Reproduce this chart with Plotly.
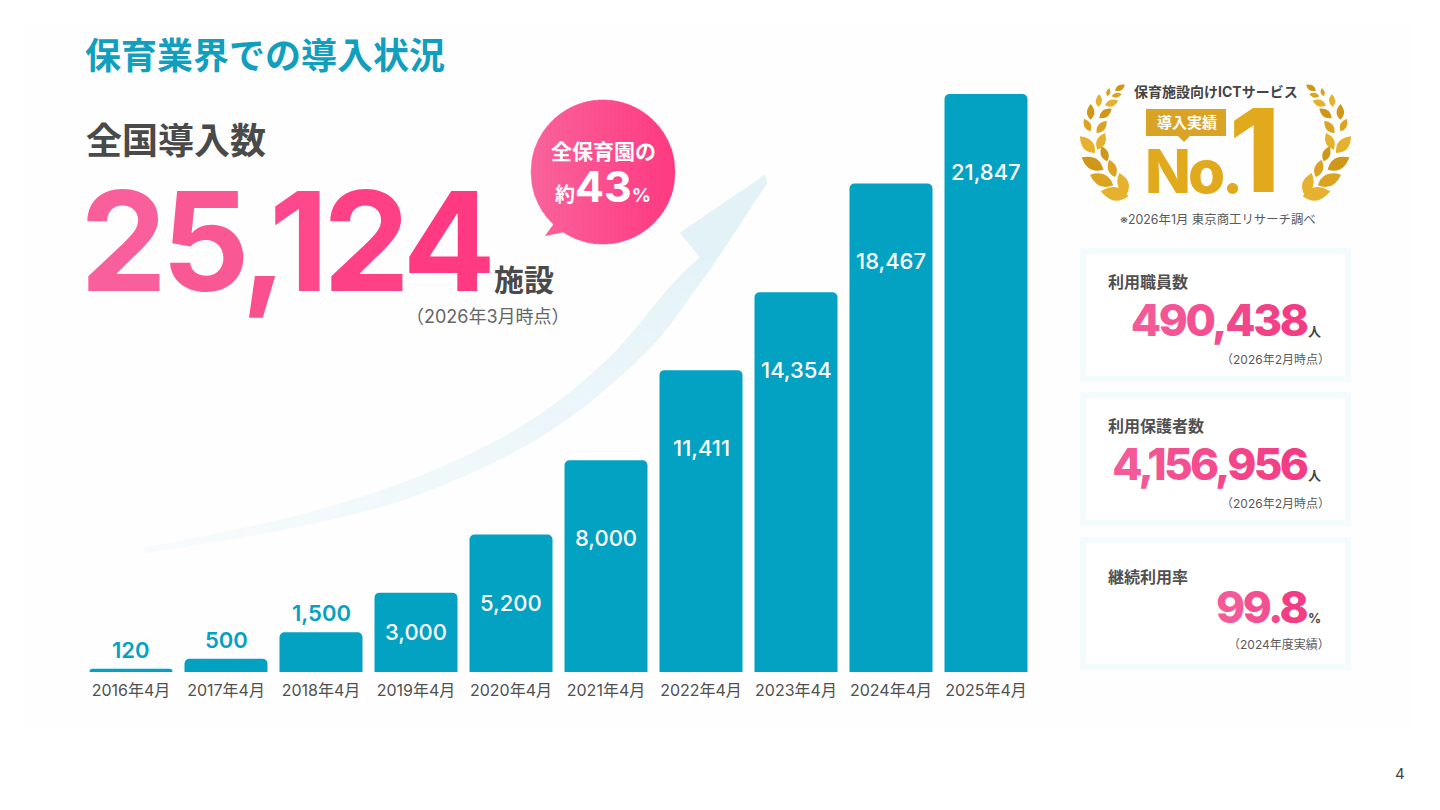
import plotly.graph_objects as go

CATEGORIES = ["2016年4月", "2017年4月", "2018年4月", "2019年4月", "2020年4月",
              "2021年4月", "2022年4月", "2023年4月", "2024年4月", "2025年4月"]
VALUES = [120, 500, 1500, 3000, 5200, 8000, 11411, 14354, 18467, 21847]
TITLE = "保育業界での導入状況"
TOTAL_LABEL = "全国導入数"
TOTAL_VALUE = "25,124"
TOTAL_UNIT = "施設"
TOTAL_NOTE = "（2026年3月時点）"
SHARE_TOP = "全保育園の"
SHARE_VALUE = "43"
STAT_LABELS = ["利用職員数", "利用保護者数", "継続利用率"]
STAT_VALUES = ["490,438", "4,156,956", "99.8"]
STAT_UNITS = ["人", "人", "%"]
STAT_NOTES = ["（2026年2月時点）", "（2026年2月時点）", "（2024年度実績）"]

W, H = 1440, 810
BASE_Y, TOP_Y = 672, 90
Y_MAX = 22000
PX_PER_UNIT = (BASE_Y - TOP_Y) / Y_MAX
TEAL = "#03a1c2"
SANS = "Inter, 'Noto Sans CJK JP', sans-serif"
JP = "'Noto Sans CJK JP', sans-serif"
GREY = "#4a4a4a"
GOLD = "#e1aa1c"
shapes, anns = [], []


def fx(x):
    return x / W


def fy(y):
    return 1 - y / H


def mix(a, b, t):
    a = [int(a[i:i + 2], 16) for i in (1, 3, 5)]
    b = [int(b[i:i + 2], 16) for i in (1, 3, 5)]
    return "#%02x%02x%02x" % tuple(round(p + (q - p) * t) for p, q in zip(a, b))


def poly(points, fill, line=False):
    d = "M" + "L".join(f"{fx(x):.5f},{fy(y):.5f}" for x, y in points) + "Z"
    shapes.append(dict(type="path", xref="paper", yref="paper", path=d, fillcolor=fill, layer="below",
                       line=dict(color=fill, width=0.6) if line else dict(width=0)))


def rect(x0, y0, x1, y1, fill):
    shapes.append(dict(type="rect", xref="paper", yref="paper", x0=fx(x0), x1=fx(x1), y0=fy(y1), y1=fy(y0),
                       fillcolor=fill, line=dict(width=0), layer="below"))


def text(x, y, s, size, color=GREY, anchor="left", family=JP, weight=400):
    anns.append(dict(xref="paper", yref="paper", x=fx(x), y=fy(y), text=s, showarrow=False,
                     xanchor=anchor, yanchor="middle", align=anchor,
                     font=dict(size=size, color=color, family=family, weight=weight)))


def gradient(s, a="#f95f9a", b="#ff3a82"):
    n = max(len(s) - 1, 1)
    return "".join(f'<span style="color:{mix(a, b, i / n)}">{c}</span>' for i, c in enumerate(s))


def smooth(pts, sub=6):
    """Catmull-Rom outline through the traced edge of the decorative arrow."""
    out = []
    for i in range(len(pts) - 1):
        p0, p1, p2, p3 = pts[max(i - 1, 0)], pts[i], pts[i + 1], pts[min(i + 2, len(pts) - 1)]
        for k in range(sub):
            t = k / sub
            out.append(tuple(0.5 * (2 * b + (c - a) * t + (2 * a - 5 * b + 4 * c - d) * t * t
                                    + (3 * b - a - 3 * c + d) * t ** 3)
                             for a, b, c, d in zip(p0, p1, p2, p3)))
    out.append(pts[-1])
    return out


# panel
rect(25, 25, 1412, 728, "#fefefe")

# arrow behind the bars
upper = smooth([(145, 548), (296, 516), (420, 476), (524, 425), (607, 360), (669, 288), (700, 257)])
lower = smooth([(145, 553), (296, 527), (420, 494), (545, 434), (644, 354), (700, 283), (723, 250)])
n = len(upper) - 1
for i in range(n):
    poly([upper[i], upper[i + 1], lower[i + 1], lower[i]], mix("#f7fbfd", "#e2f2f7", i / n), line=True)
poly([(765, 175), (680, 233), (700, 257), (723, 250), (767, 183)], "#e2f2f7", line=True)

# speech bubble, in vertical strips for the horizontal gradient
cx, cy, r = 603, 172, 72
poly([(562, 212), (545, 236), (585, 228)], "#fb5c96")
strips = 36
for i in range(strips):
    pts_top, pts_bot = [], []
    for j in range(5):
        x = cx - r + 2 * r * (i + j / 4) / strips
        dy = max(r * r - (x - cx) ** 2, 0) ** 0.5
        pts_top.append((x, cy - dy))
        pts_bot.append((x, cy + dy))
    poly(pts_top + pts_bot[::-1], mix("#f9639c", "#ff3a82", i / (strips - 1)), line=True)

# laurels
LEFT_LEAVES = [((175, 355), (92, 340)), ((130, 322), (60, 290)), ((100, 275), (35, 238)), ((75, 225), (30, 175)),
               ((62, 160), (42, 122)), ((62, 125), (62, 78)), ((85, 87), (88, 48)), ((112, 55), (118, 30)), ((135, 38), (165, 20)),
               ((170, 350), (148, 285)), ((135, 297), (118, 245)), ((112, 250), (95, 205)), ((82, 215), (105, 165)),
               ((80, 165), (110, 128)), ((88, 120), (125, 92)), ((105, 82), (145, 68)), ((125, 55), (155, 48))]


def leaf(p, q, fill, mirror):
    def m(pt):
        x, y = 1070 + pt[0] / 3, 78 + pt[1] / 3
        return (2 * 1215.5 - x if mirror else x, y)
    (x0, y0), (x1, y1) = m(p), m(q)
    dx, dy = x1 - x0, y1 - y0
    nx, ny = -dy * 0.48, dx * 0.48
    mx, my = x0 + dx * 0.45, y0 + dy * 0.45
    d = (f"M{fx(x0):.5f},{fy(y0):.5f}Q{fx(mx + nx):.5f},{fy(my + ny):.5f} {fx(x1):.5f},{fy(y1):.5f}"
         f"Q{fx(mx - nx):.5f},{fy(my - ny):.5f} {fx(x0):.5f},{fy(y0):.5f}Z")
    shapes.append(dict(type="path", xref="paper", yref="paper", path=d, fillcolor=fill, line=dict(width=0), layer="below"))


for mirror in (False, True):
    for i, (p, q) in enumerate(LEFT_LEAVES):
        leaf(p, q, mix("#e6b12e", "#cf9717", (i % 3) / 2), mirror)

# badge
rect(1146, 109, 1226, 136, "#d9a425")
poly([(1178, 136), (1190, 136), (1184, 142)], "#d9a425")
text(1215.5, 91, "保育施設向けICTサービス", 14, "#444444", "center", SANS, 700)
text(1187, 122, "導入実績", 15, "#ffffff", "center", JP, 700)
text(1143, 171, "No.", 60, GOLD, "left", SANS, 800)
text(1282, 150, "1", 116, GOLD, "right", SANS, 800)
text(1218, 219, "※2026年1月 東京商工リサーチ調べ", 12.4, "#5a5a5a", "center", SANS)

# stat cards
CARD_Y = [(248, 382), (392, 526), (537, 670)]
LABEL_Y = [281, 425, 576]
VALUE_Y = [320, 464, 607]
NOTE_Y = [359, 503, 644]
for i, (y0, y1) in enumerate(CARD_Y):
    rect(1080, y0, 1351, y1, "#f3fbfe")
    rect(1086, y0 + 6, 1345, y1 - 6, "#ffffff")
    text(1106, LABEL_Y[i], STAT_LABELS[i], 16, "#505050", "left", JP, 700)
    text(1308, VALUE_Y[i], gradient(STAT_VALUES[i], "#f55a98", "#f23d84"), 44, "#f44a8d", "right", SANS, 800)
    text(1323, VALUE_Y[i] + 11, STAT_UNITS[i], 13, "#444444", "right", SANS, 700)
    text(1332, NOTE_Y[i], STAT_NOTES[i], 12, "#5a5a5a", "right", SANS)

# headline block
text(83, 53, TITLE, 36, "#129fbe", "left", JP, 700)
text(84, 138, TOTAL_LABEL, 36, GREY, "left", JP, 700)
text(78, 240, gradient(TOTAL_VALUE), 138, "#fb5c96", "left", SANS, 700)
text(492, 278, TOTAL_UNIT, 30, GREY, "left", JP, 700)
text(404, 317, TOTAL_NOTE, 18, "#666666", "left", SANS)
text(603, 150, SHARE_TOP, 21, "#ffffff", "center", JP, 700)
text(603, 186, f'<span style="font-size:20px">約</span><span style="font-size:43px">{SHARE_VALUE}</span><span style="font-size:19px">%</span>',
     43, "#ffffff", "center", SANS, 700)
text(1400, 773, "4", 15, "#444444", "center", SANS)

# value labels: from the bar's own value, inside the bar if it can hold the label
for c, v in zip(CATEGORIES, VALUES):
    h = v * PX_PER_UNIT
    if v >= 3000:
        shift, color, weight = -min(78, h / 2), "#ffffff", 500
    else:
        shift, color, weight = 19, TEAL, 600
    anns.append(dict(xref="x", yref="y", x=c, y=v, yshift=shift, text=f"{v:,}", showarrow=False,
                     xanchor="center", yanchor="middle",
                     font=dict(size=22, color=color, family=SANS, weight=weight)))

fig = go.Figure(go.Bar(x=CATEGORIES, y=VALUES, marker=dict(color=TEAL, cornerradius=5, line=dict(width=0)),
                       hoverinfo="skip"))
fig.update_layout(
    width=W, height=H, margin=dict(l=0, r=0, t=0, b=0), showlegend=False,
    paper_bgcolor="#ffffff", plot_bgcolor="rgba(0,0,0,0)", bargap=12 / 95,
    xaxis=dict(domain=[83.5 / W, 1033.5 / W], type="category", categoryorder="array", categoryarray=CATEGORIES,
               showline=False, showgrid=False, zeroline=False, ticks="", ticklabelstandoff=7,
               tickfont=dict(size=16, color="#505050", family=SANS)),
    yaxis=dict(domain=[(H - BASE_Y) / H, (H - TOP_Y) / H], range=[0, Y_MAX], visible=False),
    shapes=shapes, annotations=anns,
)
POST = """
document.body.style.margin = '0';
var tight = {'25,124': '-5.5px', '490,438': '-2.4px', '4,156,956': '-2.7px', '99.8': '-2.5px', 'No.': '-3px'};
document.querySelectorAll('.annotation-text').forEach(function (t) {
  var s = t.textContent;
  if (tight[s]) { t.style.letterSpacing = tight[s]; }
});
"""
fig.write_html("out.html", post_script=POST, config=dict(displayModeBar=False))
